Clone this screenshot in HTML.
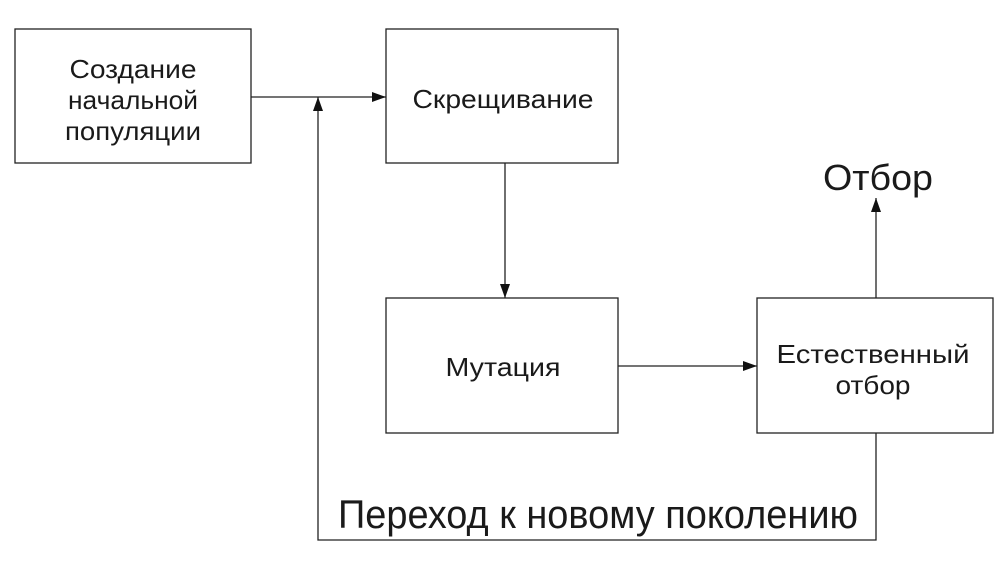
<!DOCTYPE html>
<html><head><meta charset="utf-8"><style>html,body{margin:0;padding:0;background:#fff}</style></head>
<body>
<svg width="1003" height="561" viewBox="0 0 1003 561" xmlns="http://www.w3.org/2000/svg" font-family="Liberation Sans, sans-serif" fill="#1a1a1a">
<defs><marker id="a" markerWidth="14" markerHeight="10" refX="14" refY="5" orient="auto" markerUnits="userSpaceOnUse"><path d="M0,0 L14,5 L0,10 Z" fill="#111"/></marker></defs>
<g fill="none" stroke="#222" stroke-width="1.3">
<rect x="15" y="29" width="236" height="134"/>
<rect x="386" y="29" width="232" height="134"/>
<rect x="386" y="298" width="232" height="135"/>
<rect x="757" y="298" width="236" height="135"/>
<line x1="251" y1="97" x2="386" y2="97" marker-end="url(#a)"/>
<polyline points="876,433 876,540 318,540 318,97" marker-end="url(#a)"/>
<line x1="505" y1="163" x2="505" y2="298" marker-end="url(#a)"/>
<line x1="618" y1="366" x2="757" y2="366" marker-end="url(#a)"/>
<line x1="876" y1="298" x2="876" y2="198" marker-end="url(#a)"/>
</g>
<g font-size="26" text-anchor="middle" stroke="none" lengthAdjust="spacingAndGlyphs">
<text x="133" y="78" textLength="127" lengthAdjust="spacingAndGlyphs">Создание</text>
<text x="133" y="109" textLength="130" lengthAdjust="spacingAndGlyphs">начальной</text>
<text x="133" y="140" textLength="136" lengthAdjust="spacingAndGlyphs">популяции</text>
<text x="503" y="108" textLength="181" lengthAdjust="spacingAndGlyphs">Скрещивание</text>
<text x="503" y="376" textLength="115" lengthAdjust="spacingAndGlyphs">Мутация</text>
<text x="873" y="363" textLength="193" lengthAdjust="spacingAndGlyphs">Естественный</text>
<text x="873" y="394" textLength="75" lengthAdjust="spacingAndGlyphs">отбор</text>
</g>
<text x="823" y="190" font-size="36" textLength="110" lengthAdjust="spacingAndGlyphs">Отбор</text>
<text x="338" y="528" font-size="40" textLength="520" lengthAdjust="spacingAndGlyphs">Переход к новому поколению</text>
</svg>
</body></html>
